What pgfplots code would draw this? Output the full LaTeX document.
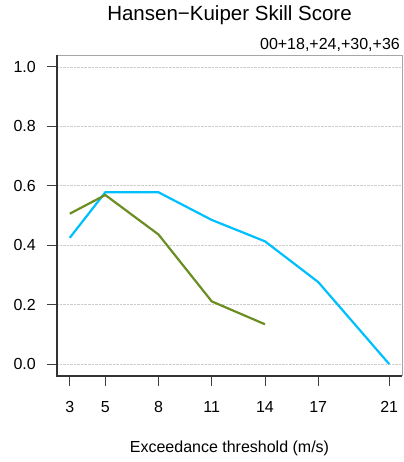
\documentclass[border=0pt]{standalone}
\usepackage{fontspec}
\setmainfont{Liberation Sans}
\usepackage{pgfplots}
\pgfplotsset{compat=1.18}
\definecolor{skyc}{RGB}{0,191,255}
\definecolor{olivec}{RGB}{107,142,35}
\tikzset{tl/.style={font=\fontsize{16bp}{19bp}\selectfont, inner sep=0pt}}
\begin{document}
\begin{tikzpicture}[x=1bp,y=1bp]
\useasboundingbox (0,0) rectangle (403,462);
\begin{axis}[
  at={(57bp,86bp)}, anchor=south west,
  width=345bp, height=321bp, scale only axis,
  xmin=2.28, xmax=21.72, ymin=-0.04, ymax=1.04,
  xtick={3,5,8,11,14,17,21},
  ytick={0,0.2,0.4,0.6,0.8,1.0},
  xticklabels={}, yticklabels={},
  tick align=outside, major tick length=10bp,
  tick style={black!75, line width=0.8bp},
  xtick pos=bottom, ytick pos=left,
  ymajorgrids, major grid style={gray!40, densely dotted, line width=0.6bp},
  axis line style={draw=none},
  xlabel={Exceedance threshold (m/s)},
  xlabel style={font=\fontsize{16bp}{19bp}\selectfont, at={(axis description cs:0.5,0)}, anchor=base, yshift=-76.7bp},
  title={Hansen\textminus Kuiper Skill Score},
  title style={font=\fontsize{20.5bp}{24bp}\selectfont, at={(axis description cs:0.5,1)}, anchor=base, yshift=28.3bp},
  clip=false,
]
\addplot[color=skyc, line width=2.2bp] coordinates {
(3,0.425) (5,0.578) (8,0.578) (11,0.485) (14,0.413) (17,0.276) (21,0.0)};
\addplot[color=olivec, line width=2.2bp] coordinates {
(3,0.506) (5,0.569) (8,0.436) (11,0.211) (14,0.134)};
\draw[gray!70, line width=0.8bp] (rel axis cs:0,1) -- (rel axis cs:1,1) -- (rel axis cs:1,0);
\draw[black!80, line width=1.8bp] (rel axis cs:0,1) -- (rel axis cs:0,0) -- (rel axis cs:1,0);
\node[tl, anchor=base east] at (rel axis cs:1,1) [yshift=5.7bp, xshift=-2bp] {00+18,+24,+30,+36};
\node[tl, anchor=east] at (axis cs:2.28,0) [xshift=-21bp] {0.0};
\node[tl, anchor=east] at (axis cs:2.28,0.2) [xshift=-21bp] {0.2};
\node[tl, anchor=east] at (axis cs:2.28,0.4) [xshift=-21bp] {0.4};
\node[tl, anchor=east] at (axis cs:2.28,0.6) [xshift=-21bp] {0.6};
\node[tl, anchor=east] at (axis cs:2.28,0.8) [xshift=-21bp] {0.8};
\node[tl, anchor=east] at (axis cs:2.28,1.0) [xshift=-21bp] {1.0};
\node[tl, anchor=base] at (axis cs:3,-0.04) [yshift=-36.5bp] {3};
\node[tl, anchor=base] at (axis cs:5,-0.04) [yshift=-36.5bp] {5};
\node[tl, anchor=base] at (axis cs:8,-0.04) [yshift=-36.5bp] {8};
\node[tl, anchor=base] at (axis cs:11,-0.04) [yshift=-36.5bp] {11};
\node[tl, anchor=base] at (axis cs:14,-0.04) [yshift=-36.5bp] {14};
\node[tl, anchor=base] at (axis cs:17,-0.04) [yshift=-36.5bp] {17};
\node[tl, anchor=base] at (axis cs:21,-0.04) [yshift=-36.5bp] {21};
\end{axis}
\end{tikzpicture}
\end{document}
